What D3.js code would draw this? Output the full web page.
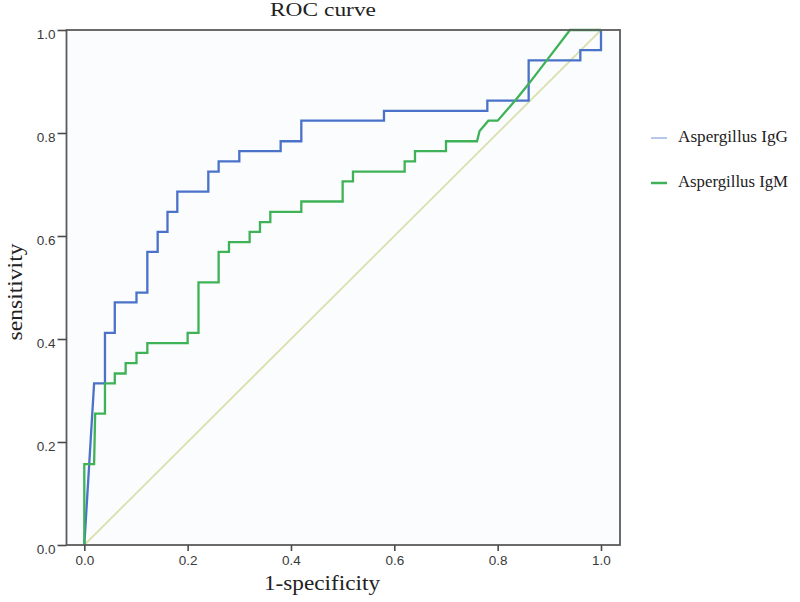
<!DOCTYPE html>
<html><head><meta charset="utf-8">
<script src="https://cdn.jsdelivr.net/npm/d3@7"></script>
<style>body{margin:0;background:#fff}svg{display:block}</style>
</head><body><svg id="c" width="800" height="602"></svg>
<script>
const xTicks=[0,0.2,0.4,0.6,0.8,1.0];
const yTicks=[0,0.2,0.4,0.6,0.8,1.0];
const seriesNames=["Aspergillus IgG","Aspergillus IgM"];
const igGX=[0,0.019,0.040,0.040,0.059,0.059,0.101,0.101,0.122,0.122,0.142,0.142,0.161,0.161,0.180,0.180,0.240,0.240,0.260,0.260,0.300,0.300,0.380,0.380,0.420,0.420,0.580,0.580,0.780,0.780,0.860,0.860,0.960,0.960,1.0,1.0];
const igGY=[0,0.314,0.314,0.412,0.412,0.471,0.471,0.490,0.490,0.569,0.569,0.608,0.608,0.647,0.647,0.686,0.686,0.725,0.725,0.745,0.745,0.765,0.765,0.784,0.784,0.824,0.824,0.843,0.843,0.863,0.863,0.941,0.941,0.961,0.961,1.0];
const igMX=[0,0,0.019,0.021,0.040,0.040,0.059,0.059,0.080,0.080,0.101,0.101,0.122,0.122,0.200,0.200,0.221,0.221,0.260,0.260,0.280,0.280,0.320,0.320,0.340,0.340,0.360,0.360,0.420,0.420,0.500,0.500,0.520,0.520,0.620,0.620,0.640,0.640,0.700,0.700,0.760,0.765,0.782,0.800,0.834,0.859,0.895,0.940,1.0];
const igMY=[0,0.157,0.157,0.255,0.255,0.314,0.314,0.333,0.333,0.353,0.353,0.373,0.373,0.392,0.392,0.412,0.412,0.510,0.510,0.569,0.569,0.588,0.588,0.608,0.608,0.627,0.627,0.647,0.647,0.667,0.667,0.706,0.706,0.725,0.725,0.745,0.745,0.765,0.765,0.784,0.784,0.804,0.824,0.824,0.863,0.894,0.941,1.0,1.0];
const refX=[0,1], refY=[0,1];

const svg=d3.select("#c");
const x=d3.scaleLinear().domain([0,1]).range([84.3,601]);
const y=d3.scaleLinear().domain([0,1]).range([545,30]);
const frame={l:66.5,r:620,t:30,b:545};
const serif="Liberation Serif, Times New Roman, serif";

svg.append("rect").attr("x",frame.l).attr("y",frame.t).attr("width",frame.r-frame.l).attr("height",frame.b-frame.t)
  .attr("fill","#fbfcfe");

const line=d3.line().x(d=>x(d[0])).y(d=>y(d[1]));
svg.append("path").datum(d3.zip(refX,refY)).attr("d",line).attr("fill","none").attr("stroke","#dcdfae").attr("stroke-width",1.8);
svg.append("path").datum(d3.zip(igGX,igGY)).attr("d",line).attr("fill","none").attr("stroke","#4a72c8").attr("stroke-width",2.3);
svg.append("path").datum(d3.zip(igMX,igMY)).attr("d",line).attr("fill","none").attr("stroke","#3fb257").attr("stroke-width",2.3);

svg.append("rect").attr("x",frame.l).attr("y",frame.t).attr("width",frame.r-frame.l).attr("height",frame.b-frame.t)
  .attr("fill","none").attr("stroke","#5b5b5b").attr("stroke-width",1.8);

const fmt=d3.format(".1f");
const ax=svg.append("g").attr("transform",`translate(0,${frame.b})`)
  .call(d3.axisBottom(x).tickValues(xTicks).tickFormat(fmt).tickSize(6).tickPadding(4));
const ay=svg.append("g").attr("transform",`translate(${frame.l},0)`)
  .call(d3.axisLeft(y).tickValues(yTicks).tickFormat(fmt).tickSize(9).tickPadding(2));
[ax,ay].forEach(g=>{
  g.select(".domain").remove();
  g.selectAll("line").attr("stroke","#4a4a4a").attr("stroke-width",1.6);
  g.selectAll("text").attr("font-family","Liberation Sans, Arial, sans-serif").attr("font-size",13.5).attr("fill","#3a3a3a");
});
ay.selectAll("text").attr("dy","0.62em");

svg.append("text").attr("x",323).attr("y",16).attr("text-anchor","middle")
  .attr("font-family",serif).attr("font-size",18).attr("fill","#222")
  .attr("textLength",106).attr("lengthAdjust","spacingAndGlyphs").text("ROC curve");
svg.append("text").attr("x",322).attr("y",590).attr("text-anchor","middle")
  .attr("font-family",serif).attr("font-size",20).attr("fill","#222")
  .attr("textLength",116).attr("lengthAdjust","spacingAndGlyphs").text("1-specificity");
svg.append("text").attr("transform","translate(22,292) rotate(-90)").attr("text-anchor","middle")
  .attr("font-family",serif).attr("font-size",20).attr("fill","#222")
  .attr("textLength",97).attr("lengthAdjust","spacingAndGlyphs").text("sensitivity");

const legColors=["#9bb6e6","#3fb257"];
const leg=svg.append("g");
seriesNames.forEach((n,i)=>{
  const yy=138+i*45;
  leg.append("line").attr("x1",651).attr("x2",667).attr("y1",yy).attr("y2",yy).attr("stroke",legColors[i]).attr("stroke-width",i===0?1.5:2.5);
  leg.append("text").attr("x",678).attr("y",yy+4).attr("font-family",serif)
    .attr("font-size",16).attr("fill","#222")
    .attr("textLength",110).attr("lengthAdjust","spacingAndGlyphs").text(n);
});
</script></body></html>
